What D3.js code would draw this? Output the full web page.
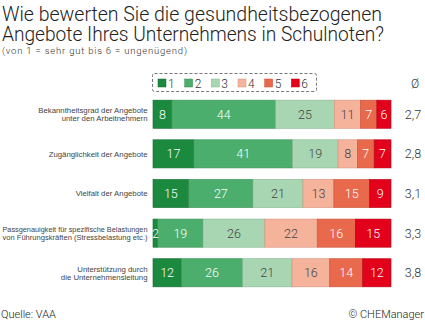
<!DOCTYPE html>
<html>
<head>
<meta charset="utf-8">
<script src="https://cdn.jsdelivr.net/npm/d3@7"></script>
<style>
  body { margin: 0; background: #fff; }
  svg { display: block; font-family: "Liberation Sans", Arial, sans-serif; }
  .light { font-family: Roboto, "DejaVu Sans", sans-serif; font-weight: 300; }
</style>
</head>
<body>
<div id="vis"></div>
<script>
// data
var categories = [
  ["Bekanntheitsgrad der Angebote", "unter den Arbeitnehmern"],
  ["Zugänglichkeit der Angebote"],
  ["Vielfalt der Angebote"],
  ["Passgenauigkeit für spezifische Belastungen", "von Führungskräften (Stressbelastung etc.)"],
  ["Unterstützung durch", "die Unternehmensleitung"]
];
var grades = ["1", "2", "3", "4", "5", "6"];
var values = [
  [8, 44, 25, 11, 7, 6],
  [17, 41, 19, 8, 7, 7],
  [15, 27, 21, 13, 15, 9],
  [2, 19, 26, 22, 16, 15],
  [12, 26, 21, 16, 14, 12]
];
var averages = ["2,7", "2,8", "3,1", "3,3", "3,8"];

var colors = ["#1b8a3f", "#4cae6c", "#a9d6b2", "#f5b39c", "#e9694d", "#e2001a"];
var strokes = ["#136b30", "#3a8d55", "#86b58f", "#d8927c", "#c9513a", "#b80015"];
var labelColors = ["#fff", "#fff", "#444", "#444", "#fff", "#fff"];

var width = 425, height = 325;

var svg = d3.select("#vis").append("svg")
    .attr("width", width)
    .attr("height", height);

// squeeze a text into a width if it runs wider
function fitTo(sel, w) {
    sel.each(function() {
        if (this.getComputedTextLength() > w) {
            d3.select(this).attr("textLength", w).attr("lengthAdjust", "spacingAndGlyphs");
        }
    });
}

// title
var title = svg.append("text")
    .attr("class", "light")
    .attr("fill", "#222")
    .attr("font-size", 19.5);
title.append("tspan").attr("x", 2).attr("y", 21)
    .text("Wie bewerten Sie die gesundheitsbezogenen");
title.append("tspan").attr("x", 2).attr("y", 40.5)
    .text("Angebote Ihres Unternehmens in Schulnoten?");
fitTo(title.selectAll("tspan"), 382);

svg.append("text")
    .attr("class", "light")
    .attr("x", 2).attr("y", 54)
    .attr("font-size", 9.5)
    .attr("fill", "#333")
    .attr("textLength", 185).attr("lengthAdjust", "spacing")
    .text("(von 1 = sehr gut bis 6 = ungenügend)");

// legend
var legend = svg.append("g");
legend.append("rect")
    .attr("x", 152.5).attr("y", 73.5)
    .attr("width", 164).attr("height", 18)
    .attr("rx", 2)
    .attr("fill", "none")
    .attr("stroke", "#777")
    .attr("stroke-dasharray", "3,2");

var legendX = d3.scaleBand().domain(grades).range([158, 318]);

var item = legend.selectAll(".item")
    .data(grades)
    .enter().append("g")
    .attr("class", "item")
    .attr("transform", function(d) { return "translate(" + legendX(d) + ",0)"; });
item.append("rect")
    .attr("x", 0).attr("y", 79)
    .attr("width", 8).attr("height", 8)
    .attr("fill", function(d, i) { return colors[i]; })
    .attr("stroke", function(d, i) { return strokes[i]; })
    .attr("stroke-width", 0.5);
item.append("text")
    .attr("class", "light")
    .attr("x", 10).attr("y", 87.5)
    .attr("font-size", 12)
    .attr("fill", "#333")
    .text(function(d) { return d; });

svg.append("text")
    .attr("class", "light")
    .attr("x", 415).attr("y", 87.5)
    .attr("text-anchor", "middle")
    .attr("font-size", 12)
    .attr("fill", "#333")
    .text("Ø");

// bars
var y = d3.scaleBand()
    .domain(d3.range(categories.length))
    .range([95, 292])
    .paddingInner(0.29)
    .paddingOuter(0.13);

var x0 = 153, x1 = 391;

var rows = svg.selectAll(".row")
    .data(values)
    .enter().append("g")
    .attr("class", "row")
    .attr("transform", function(d, i) { return "translate(0," + y(i) + ")"; });

rows.each(function(row, r) {
    var g = d3.select(this);
    var total = d3.sum(row);
    var x = d3.scaleLinear().domain([0, total]).range([x0, x1]);
    var cum = 0;
    var segs = row.map(function(v, i) {
        var s = { v: v, i: i, start: cum, end: cum + v };
        cum += v;
        return s;
    });

    g.selectAll("rect")
        .data(segs)
        .enter().append("rect")
        .attr("x", function(d) { return x(d.start); })
        .attr("y", 0)
        .attr("width", function(d) { return x(d.end) - x(d.start); })
        .attr("height", y.bandwidth())
        .attr("fill", function(d) { return colors[d.i]; })
        .attr("stroke", function(d) { return strokes[d.i]; })
        .attr("stroke-width", 0.6);

    g.selectAll(".val")
        .data(segs)
        .enter().append("text")
        .attr("class", "val light")
        .attr("x", function(d) { return (x(d.start) + x(d.end)) / 2; })
        .attr("y", y.bandwidth() / 2 + 4.5)
        .attr("text-anchor", "middle")
        .attr("font-size", 12.5)
        .attr("fill", function(d) { return labelColors[d.i]; })
        .text(function(d) { return d.v; });

    // category label
    var lines = categories[r];
    var lab = g.append("text")
        .attr("text-anchor", "end")
        .attr("font-size", 7.8)
        .attr("fill", "#444");
    lines.forEach(function(line, k) {
        lab.append("tspan")
            .attr("x", 147.5)
            .attr("y", y.bandwidth() / 2 + 3 + (k - (lines.length - 1) / 2) * 8.5)
            .text(line);
    });
    fitTo(lab.selectAll("tspan"), 145);

    // average
    g.append("text")
        .attr("class", "light")
        .attr("x", 413)
        .attr("y", y.bandwidth() / 2 + 4.5)
        .attr("text-anchor", "middle")
        .attr("font-size", 12.5)
        .attr("fill", "#333")
        .text(averages[r]);
});

// footer
svg.append("text")
    .attr("class", "light")
    .attr("x", 1).attr("y", 318)
    .attr("font-size", 11)
    .attr("fill", "#222")
    .text("Quelle: VAA");
svg.append("text")
    .attr("class", "light")
    .attr("x", 424).attr("y", 318)
    .attr("text-anchor", "end")
    .attr("font-size", 11)
    .attr("fill", "#222")
    .text("© CHEManager");
</script>
</body>
</html>
